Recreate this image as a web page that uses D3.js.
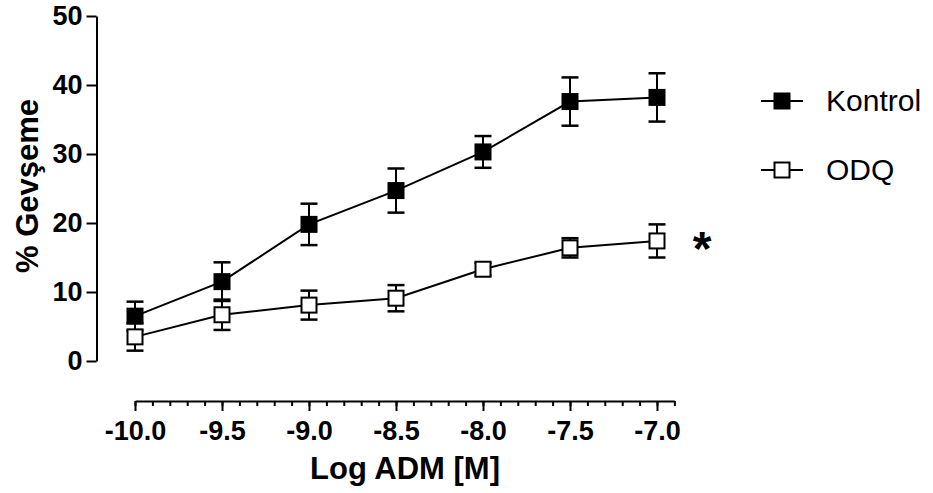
<!DOCTYPE html>
<html>
<head>
<meta charset="utf-8">
<script src="https://cdn.jsdelivr.net/npm/d3@7"></script>
<style>
  body { margin: 0; background: #fff; }
  svg { display: block; }
  text { font-family: "Liberation Sans", Arial, sans-serif; fill: #000; }
</style>
</head>
<body>
<div id="chart"></div>
<script>
// data
var doses = [-10.0, -9.5, -9.0, -8.5, -8.0, -7.5, -7.0];
var kontrolMean = [6.5, 11.5, 19.8, 24.7, 30.3, 37.6, 38.2];
var kontrolErr  = [2.1, 2.8, 3.0, 3.2, 2.3, 3.5, 3.5];
var odqMean = [3.5, 6.7, 8.1, 9.1, 13.3, 16.4, 17.4];
var odqErr  = [2.0, 2.2, 2.1, 1.9, 0.9, 1.4, 2.4];
var xTicks = [-10.0, -9.5, -9.0, -8.5, -8.0, -7.5, -7.0];
var yTicks = [0, 10, 20, 30, 40, 50];
var seriesNames = ['Kontrol', 'ODQ'];

window.addEventListener('DOMContentLoaded', () => {

    var width = 933, height = 493;

    var svg = d3.select('#chart')
        .append('svg')
        .attr('width', width)
        .attr('height', height);

    var x = d3.scaleLinear().domain([-10, -7]).range([135, 657]);
    var xAxisScale = d3.scaleLinear().domain([-10, -6.9]).range([135, x(-6.9)]);
    var y = d3.scaleLinear().domain([0, 50]).range([361, 16]);

    // y axis
    var yAxis = svg.append('g')
        .attr('transform', 'translate(96.5,0)')
        .call(d3.axisLeft(y).tickValues(yTicks).tickSize(10).tickSizeOuter(0).tickPadding(4));
    yAxis.selectAll('path, line').attr('stroke', '#000').attr('stroke-width', 2);
    yAxis.selectAll('text')
        .style('font-size', '27px')
        .style('font-weight', 'bold')
        .style('font-family', '"Liberation Sans", Arial, sans-serif');

    // x axis, minor ticks every 0.1
    var xAxisY = 401;
    var minor = d3.range(0, 32).map(function (i) { return -10 + i * 0.1; });
    var xMinor = svg.append('g')
        .attr('transform', 'translate(0,' + xAxisY + ')')
        .call(d3.axisBottom(xAxisScale).tickValues(minor).tickSize(5).tickSizeOuter(0).tickFormat(''));
    xMinor.selectAll('path, line').attr('stroke', '#000').attr('stroke-width', 2);

    var xAxis = svg.append('g')
        .attr('transform', 'translate(0,' + xAxisY + ')')
        .call(d3.axisBottom(x).tickValues(xTicks).tickSize(10).tickSizeOuter(0).tickPadding(10));
    xAxis.select('.domain').remove();
    xAxis.selectAll('line').attr('stroke', '#000').attr('stroke-width', 2);
    xAxis.selectAll('text')
        .text(function (d) { return d3.format('.1f')(d).replace('\u2212', '-'); })
        .style('font-size', '27px')
        .style('font-weight', 'bold')
        .style('font-family', '"Liberation Sans", Arial, sans-serif');

    // axis titles
    svg.append('text')
        .attr('x', 405)
        .attr('y', 479)
        .attr('text-anchor', 'middle')
        .style('font-size', '31px')
        .style('font-weight', 'bold')
        .text('Log ADM [M]');

    svg.append('text')
        .attr('transform', 'translate(38,186) rotate(-90)')
        .attr('text-anchor', 'middle')
        .style('font-size', '31px')
        .style('font-weight', 'bold')
        .text('% Gevşeme');

    var series = [
        { name: seriesNames[0], mean: kontrolMean, err: kontrolErr, fill: '#000' },
        { name: seriesNames[1], mean: odqMean, err: odqErr, fill: '#fff' }
    ];

    var line = d3.line()
        .x(function (d) { return x(d.x); })
        .y(function (d) { return y(d.y); });

    var box = 15, cap = 17;

    series.forEach(function (s) {
        var pts = doses.map(function (d, i) { return { x: d, y: s.mean[i], e: s.err[i] }; });

        svg.append('path')
            .datum(pts)
            .attr('d', line)
            .attr('fill', 'none')
            .attr('stroke', '#000')
            .attr('stroke-width', 2);

        var eb = svg.append('g');
        eb.selectAll('.v')
            .data(pts)
            .enter()
            .append('line')
            .attr('x1', function (d) { return x(d.x); })
            .attr('x2', function (d) { return x(d.x); })
            .attr('y1', function (d) { return y(d.y + d.e); })
            .attr('y2', function (d) { return y(d.y - d.e); })
            .attr('stroke', '#000')
            .attr('stroke-width', 2);
        eb.selectAll('.t')
            .data(pts)
            .enter()
            .append('line')
            .attr('x1', function (d) { return x(d.x) - cap / 2; })
            .attr('x2', function (d) { return x(d.x) + cap / 2; })
            .attr('y1', function (d) { return y(d.y + d.e); })
            .attr('y2', function (d) { return y(d.y + d.e); })
            .attr('stroke', '#000')
            .attr('stroke-width', 2.5);
        eb.selectAll('.b')
            .data(pts)
            .enter()
            .append('line')
            .attr('x1', function (d) { return x(d.x) - cap / 2; })
            .attr('x2', function (d) { return x(d.x) + cap / 2; })
            .attr('y1', function (d) { return y(d.y - d.e); })
            .attr('y2', function (d) { return y(d.y - d.e); })
            .attr('stroke', '#000')
            .attr('stroke-width', 2.5);

        svg.append('g')
            .selectAll('rect')
            .data(pts)
            .enter()
            .append('rect')
            .attr('x', function (d) { return x(d.x) - box / 2; })
            .attr('y', function (d) { return y(d.y) - box / 2; })
            .attr('width', box)
            .attr('height', box)
            .attr('fill', s.fill)
            .attr('stroke', '#000')
            .attr('stroke-width', 2);
    });

    // significance star next to ODQ
    svg.append('text')
        .attr('x', 702)
        .attr('y', y(odqMean[6]) + 24)
        .attr('text-anchor', 'middle')
        .style('font-size', '48px')
        .style('font-weight', 'bold')
        .text('*');

    // legend
    var legend = svg.append('g');
    var legY = [101, 170];
    series.forEach(function (s, i) {
        var g = legend.append('g').attr('transform', 'translate(0,' + legY[i] + ')');
        g.append('line')
            .attr('x1', 761).attr('x2', 803)
            .attr('y1', 0).attr('y2', 0)
            .attr('stroke', '#000').attr('stroke-width', 2);
        g.append('rect')
            .attr('x', 782 - box / 2).attr('y', -box / 2)
            .attr('width', box).attr('height', box)
            .attr('fill', s.fill)
            .attr('stroke', '#000').attr('stroke-width', 2);
        g.append('text')
            .attr('x', 826)
            .attr('y', 10)
            .style('font-size', '30px')
            .text(s.name);
    });
});
</script>
</body>
</html>
